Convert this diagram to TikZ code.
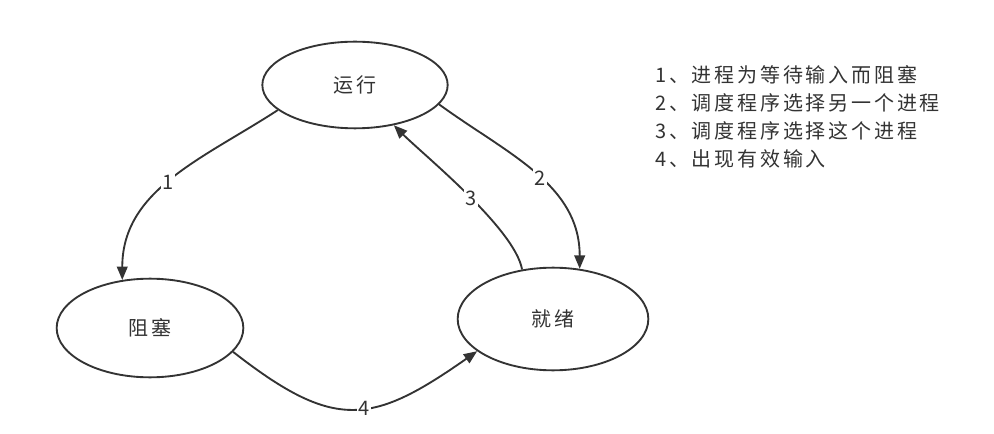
\documentclass[tikz,border=0pt]{standalone}
\usepackage{fontspec}
\setmainfont{Noto Sans CJK SC}[LetterSpace=14]
\usetikzlibrary{shapes.geometric,arrows.meta}
\definecolor{ink}{HTML}{333333}
\begin{document}
\begin{tikzpicture}[
	x=0.75pt, y=-0.75pt,
	state/.style={ellipse, draw=ink, line width=1.4pt, inner sep=0pt, text=ink,
		font=\fontsize{15pt}{18pt}\selectfont},
	trans/.style={draw=ink, line width=1.4pt, -{Triangle[length=10pt,width=8pt]}},
	num/.style={fill=white, inner sep=1pt, text=ink, font=\fontsize{15pt}{18pt}\selectfont}
]
\useasboundingbox (0,0) rectangle (994,434);
\node[state, minimum width=139pt, minimum height=65pt] (Run) at (355,85) {运行};
\node[state, minimum width=140pt, minimum height=74pt] (Blk) at (150,328) {阻塞};
\node[state, minimum width=143pt, minimum height=77pt] (Rdy) at (553,319) {就绪};
\draw[trans] (Run.198) to[out=213,in=90] node[num, pos=0.52] {1} (Blk.120);
\draw[trans] (Run.-13) to[out=-36,in=90] node[num, pos=0.53] {2} (Rdy.62);
\draw[trans] (Rdy.122) to[out=100,in=-45,looseness=0.55] node[num, pos=0.47] {3} (Run.-46);
\draw[trans] (Blk.-16) to[out=-38,in=215,looseness=1.35] node[num, pos=0.55] {4} (Rdy.203);
\node[anchor=north west, inner sep=0pt, align=left, text=ink,
	font=\fontsize{15pt}{21pt}\selectfont] (Key) at (655,65) {%
	1、进程为等待输入而阻塞\\
	2、调度程序选择另一个进程\\
	3、调度程序选择这个进程\\
	4、出现有效输入};
\end{tikzpicture}
\end{document}
